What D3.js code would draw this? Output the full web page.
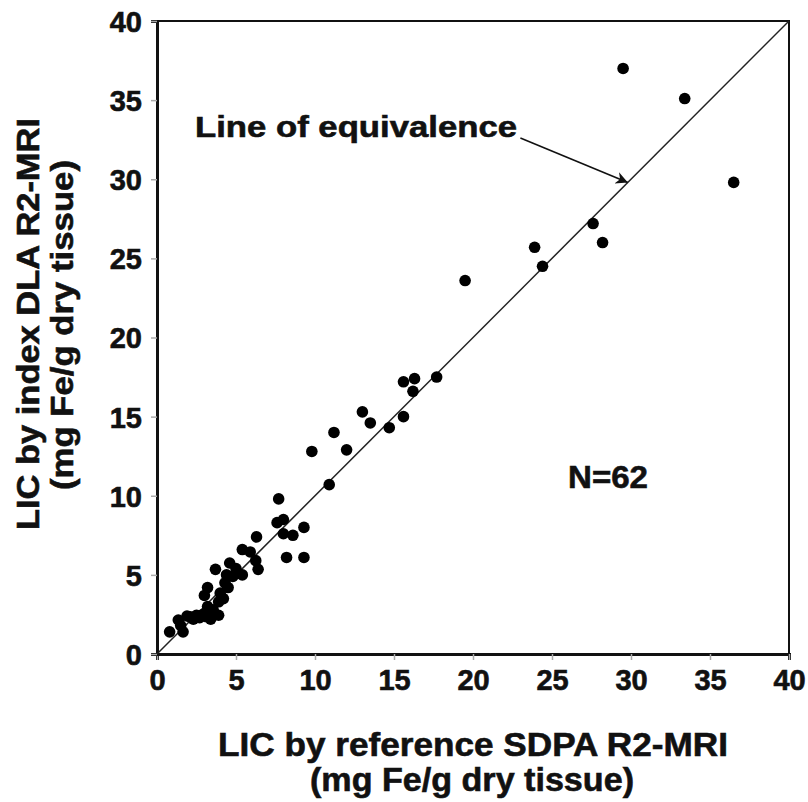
<!DOCTYPE html>
<html>
<head>
<meta charset="utf-8">
<script src="https://cdn.jsdelivr.net/npm/d3@7"></script>
<style>
  body { margin: 0; background: #fff; }
  svg text { font-family: "Liberation Sans", Arial, Helvetica, sans-serif; font-weight: bold; fill: #111; stroke: #111; stroke-width: 0.6px; }
</style>
</head>
<body>
<svg id="chart" width="808" height="802"></svg>
<script>
// reference SDPA (x) vs index DLA (y), mg Fe/g dry tissue
var refLIC = [29.5, 33.4, 36.5, 27.6, 28.2, 23.9, 24.4, 19.5, 17.7, 16.3,
              15.6, 16.2, 15.6, 14.7, 13.0, 13.5, 11.2, 12.0, 9.8, 10.9,
              7.7, 7.6, 8.0, 8.0, 8.6, 9.3, 8.2, 9.3, 6.3, 5.4,
              5.9, 6.25, 6.4, 5.4, 4.8, 4.4, 4.6, 3.7, 4.5, 4.0,
              3.9, 3.9, 3.55, 3.2, 3.0, 3.2, 3.15, 2.7, 2.5, 2.1,
              1.65, 1.35, 0.8, 1.5, 2.3, 2.9, 3.4, 4.3, 4.2, 5.0,
              1.9, 3.6];
var dlaLIC = [37.0, 35.1, 29.8, 27.2, 26.0, 25.7, 24.5, 23.6, 17.5, 17.4,
              17.2, 16.6, 15.0, 14.3, 15.3, 14.6, 14.0, 12.9, 12.8, 10.7,
              9.8, 8.3, 8.5, 7.6, 7.5, 8.0, 6.1, 6.1, 7.4, 6.6,
              6.45, 5.9, 5.35, 5.0, 4.9, 5.0, 5.75, 5.35, 4.2, 3.85,
              3.3, 2.45, 2.8, 4.2, 3.7, 3.0, 2.35, 2.3, 2.45, 2.35,
              1.4, 2.15, 1.4, 1.8, 2.2, 2.5, 2.2, 4.5, 3.5, 5.4,
              2.4, 2.6];
var tickValues = [0, 5, 10, 15, 20, 25, 30, 35, 40];
var equivLine = [0, 40];
var arrowTail = [23.0, 32.6];
var arrowTip = [29.8, 29.8];

var margin = { top: 21, right: 19, bottom: 148, left: 157 };
var svg = d3.select("#chart");
var width = 808 - margin.left - margin.right;
var height = 802 - margin.top - margin.bottom;

var x = d3.scaleLinear().domain([0, 40]).range([0, width]);
var y = d3.scaleLinear().domain([0, 40]).range([height, 0]);

var g = svg.append("g")
    .attr("transform", "translate(" + margin.left + "," + margin.top + ")");

// frame
g.append("rect")
    .attr("width", width)
    .attr("height", height)
    .attr("fill", "none")
    .attr("stroke", "#111")
    .attr("stroke-width", 2);

var xAxis = d3.axisBottom(x).tickValues(tickValues).tickSize(6).tickPadding(5);
var yAxis = d3.axisLeft(y).tickValues(tickValues).tickSize(6).tickPadding(9);

var gX = g.append("g")
    .attr("transform", "translate(0," + height + ")")
    .call(xAxis);
var gY = g.append("g").call(yAxis);

[gX, gY].forEach(function (ax) {
    ax.attr("font-size", 29);
    ax.select(".domain").attr("stroke", "#111").attr("stroke-width", 3);
    ax.selectAll(".tick line").attr("stroke", "#aaa").attr("stroke-width", 1.5);
    ax.selectAll(".tick text")
      .style("font-size", "29px")
      .attr("fill", "#111");
});
gX.selectAll(".tick text").attr("dy", "0.85em");
gY.selectAll(".tick text").attr("dy", "0.36em");

// line of equivalence
g.append("line")
    .attr("x1", x(equivLine[0])).attr("y1", y(equivLine[0]))
    .attr("x2", x(equivLine[1])).attr("y2", y(equivLine[1]))
    .attr("stroke", "#222")
    .attr("stroke-width", 1.5);

// points
var pts = refLIC.map(function (v, i) { return { x: v, y: dlaLIC[i] }; });
g.selectAll("circle.pt")
    .data(pts)
    .enter().append("circle")
    .attr("class", "pt")
    .attr("cx", function (d) { return x(d.x); })
    .attr("cy", function (d) { return y(d.y); })
    .attr("r", 5.8)
    .attr("fill", "#000");

// arrow
svg.append("defs").append("marker")
    .attr("id", "head")
    .attr("viewBox", "0 0 10 10")
    .attr("refX", 10).attr("refY", 5)
    .attr("markerWidth", 16).attr("markerHeight", 12)
    .attr("markerUnits", "userSpaceOnUse")
    .attr("orient", "auto")
    .append("path")
    .attr("d", "M0,0 L10,5 L0,10 L3,5 Z")
    .attr("fill", "#111");

g.append("line")
    .attr("x1", x(arrowTail[0])).attr("y1", y(arrowTail[1]))
    .attr("x2", x(arrowTip[0])).attr("y2", y(arrowTip[1]))
    .attr("stroke", "#111")
    .attr("stroke-width", 1.6)
    .attr("marker-end", "url(#head)");

g.append("text")
    .attr("x", 38)
    .attr("y", 116)
    .attr("textLength", 322)
    .attr("lengthAdjust", "spacingAndGlyphs")
    .style("font-size", "30px")
    .text("Line of equivalence");

g.append("text")
    .attr("x", 608 - margin.left)
    .attr("y", 488 - margin.top)
    .attr("text-anchor", "middle")
    .attr("textLength", 80)
    .attr("lengthAdjust", "spacingAndGlyphs")
    .style("font-size", "31px")
    .text("N=62");

// axis titles
svg.append("text")
    .attr("x", 473).attr("y", 756)
    .attr("text-anchor", "middle")
    .attr("textLength", 510)
    .attr("lengthAdjust", "spacingAndGlyphs")
    .style("font-size", "33px")
    .text("LIC by reference SDPA R2-MRI");
svg.append("text")
    .attr("x", 472).attr("y", 791)
    .attr("text-anchor", "middle")
    .attr("textLength", 324)
    .attr("lengthAdjust", "spacingAndGlyphs")
    .style("font-size", "33px")
    .text("(mg Fe/g dry tissue)");

svg.append("text")
    .attr("transform", "translate(39,324) rotate(-90)")
    .attr("text-anchor", "middle")
    .attr("textLength", 412)
    .attr("lengthAdjust", "spacingAndGlyphs")
    .style("font-size", "32px")
    .text("LIC by index DLA R2-MRI");
svg.append("text")
    .attr("transform", "translate(73,325) rotate(-90)")
    .attr("text-anchor", "middle")
    .attr("textLength", 330)
    .attr("lengthAdjust", "spacingAndGlyphs")
    .style("font-size", "32px")
    .text("(mg Fe/g dry tissue)");
</script>
</body>
</html>
